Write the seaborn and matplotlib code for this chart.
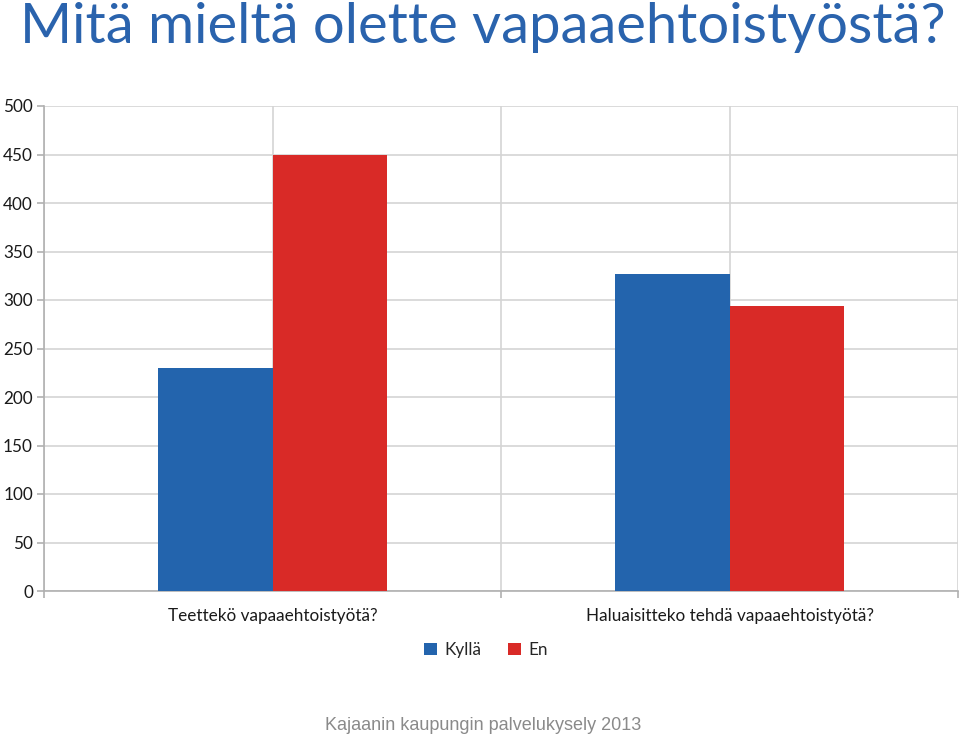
import matplotlib
matplotlib.use("Agg")
import matplotlib.pyplot as plt
import seaborn as sns
import pandas as pd
from matplotlib.patches import Patch

categories = ["Teettekö vapaaehtoistyötä?", "Haluaisitteko tehdä vapaaehtoistyötä?"]
series_names = ["Kyllä", "En"]
kylla = [230, 327]
en = [450, 294]
yticks = [0, 50, 100, 150, 200, 250, 300, 350, 400, 450, 500]

title = "Mitä mieltä olette vapaaehtoistyöstä?"
footer = "Kajaanin kaupungin palvelukysely 2013"
colors = ["#2364ad", "#d92a27"]

df = pd.DataFrame({
    "cat": categories * 2,
    "series": [series_names[0]] * 2 + [series_names[1]] * 2,
    "value": kylla + en,
})

sns.set_theme(style="white")
plt.rcParams["font.family"] = ["Lato", "DejaVu Sans"]

fig = plt.figure(figsize=(9.6, 7.36), dpi=100)
ax = fig.add_axes([44 / 960, 1 - 591 / 736, (958 - 44) / 960, (591 - 106) / 736])

sns.barplot(data=df, x="cat", y="value", hue="series", hue_order=series_names,
            order=categories, palette=colors, width=0.5, gap=0, ax=ax,
            saturation=1, legend=False, edgecolor="none", linewidth=0, zorder=3)

ax.set_xlim(-0.5, 1.5)
ax.set_ylim(0, 500)
ax.set_yticks(yticks)
ax.set_xlabel("")
ax.set_ylabel("")

grid_c = "#d4d4d4"
ax.set_xticks([0, 1])
ax.set_xticks([-0.5, 0.5, 1.5], minor=True)
ax.grid(True, axis="y", color=grid_c, linewidth=1.2, zorder=0)
ax.grid(True, axis="x", which="both", color=grid_c, linewidth=1.2, zorder=0)
ax.set_axisbelow(True)

for s in ["top", "right"]:
    ax.spines[s].set_visible(False)
for s in ["left", "bottom"]:
    ax.spines[s].set_color("#b0b0b0")
    ax.spines[s].set_linewidth(1.2)

ax.tick_params(axis="y", which="major", length=5, color="#b0b0b0", width=1.2,
               labelsize=12.3, labelcolor="#1a1a1a", pad=3, left=True)
ax.tick_params(axis="x", which="major", length=0, labelsize=12.3,
               labelcolor="#1a1a1a", pad=12)
ax.tick_params(axis="x", which="minor", length=5, color="#b0b0b0", width=1.2,
               bottom=True)

handles = [Patch(facecolor=c, edgecolor="none") for c in colors]
fig.legend(handles, series_names, loc="center", bbox_to_anchor=(486 / 960, 1 - 650 / 736),
           ncol=2, frameon=False, fontsize=12.3, handlelength=0.75, handleheight=0.75,
           handletextpad=0.4, columnspacing=1.6)

t = fig.text(20 / 960, 1 - 43 / 736, title, fontsize=39, color="#2a63ad",
             family=["Lato", "DejaVu Sans"], ha="left", va="baseline")
# fit title width to span roughly x=20..945 px
fig.canvas.draw()
w = t.get_window_extent().width
t.set_fontsize(39 * 925 / w)

fig.text(483 / 960, 1 - 725 / 736, footer, fontsize=13.0, color="#8a8a8a",
         family=["Liberation Sans", "DejaVu Sans"], ha="center", va="center")

fig.savefig("out.png", dpi=100)
